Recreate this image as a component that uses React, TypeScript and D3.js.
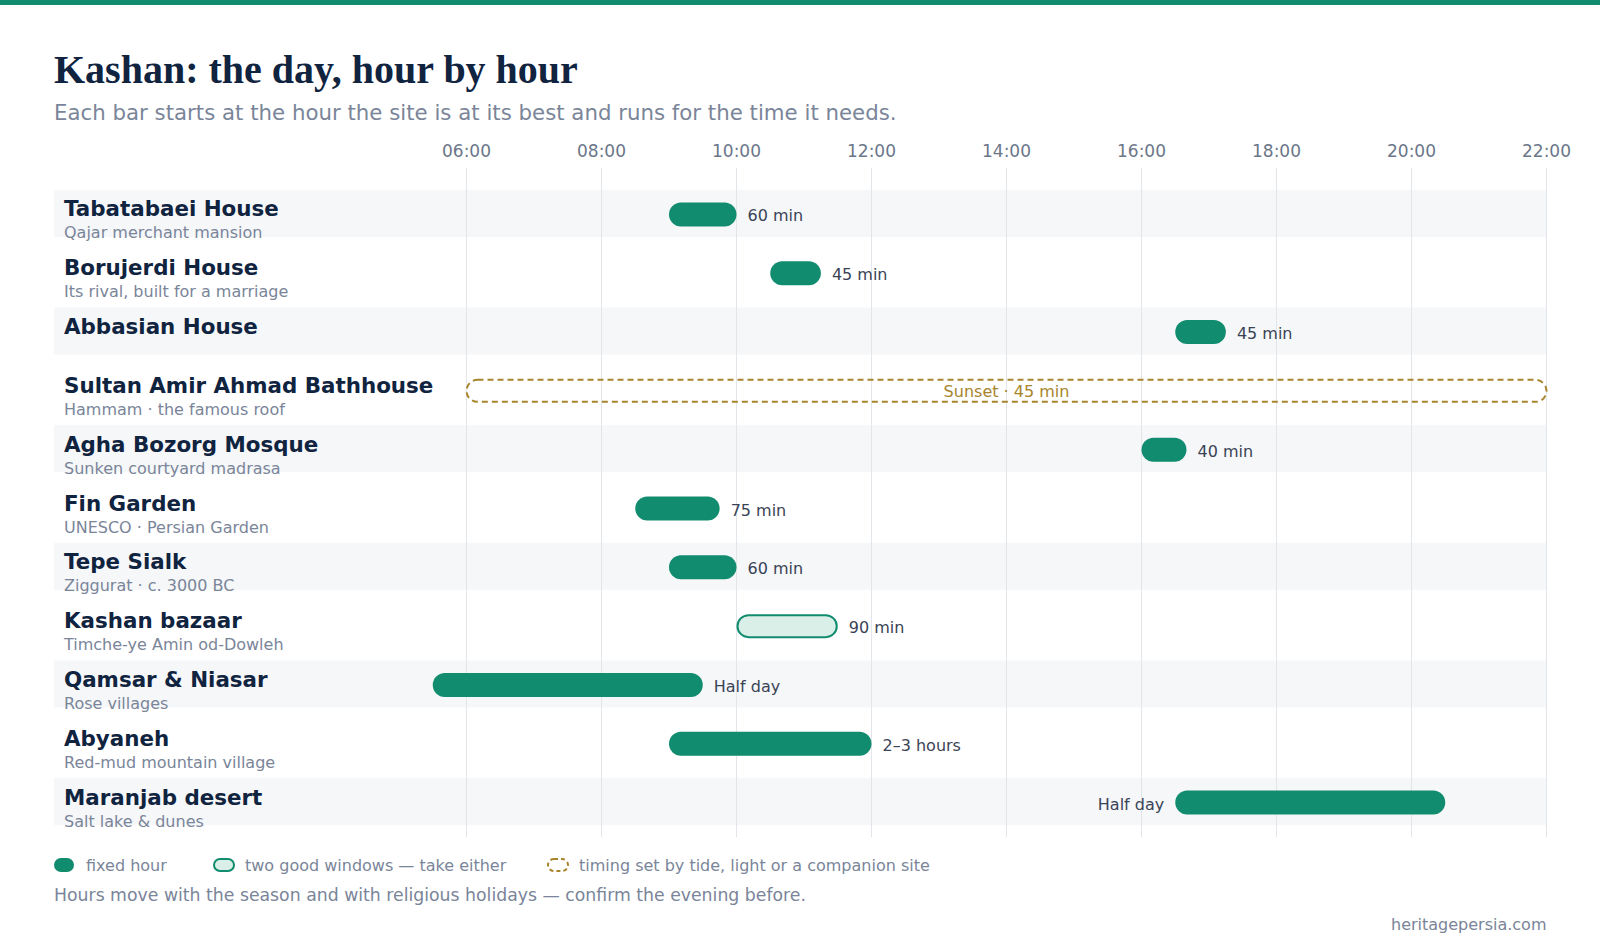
import * as d3 from 'd3';
import { useEffect } from 'react';

// site rows, top to bottom
const sites = [
  'Tabatabaei House',
  'Borujerdi House',
  'Abbasian House',
  'Sultan Amir Ahmad Bathhouse',
  'Agha Bozorg Mosque',
  'Fin Garden',
  'Tepe Sialk',
  'Kashan bazaar',
  'Qamsar & Niasar',
  'Abyaneh',
  'Maranjab desert',
];
const notes = [
  'Qajar merchant mansion',
  'Its rival, built for a marriage',
  '',
  'Hammam · the famous roof',
  'Sunken courtyard madrasa',
  'UNESCO · Persian Garden',
  'Ziggurat · c. 3000 BC',
  'Timche-ye Amin od-Dowleh',
  'Rose villages',
  'Red-mud mountain village',
  'Salt lake & dunes',
];
// best start hour (null = set by light / another site)
const startHours: (number | null)[] = [9, 10.5, 16.5, null, 16, 8.5, 9, 10, 5.5, 9, 16.5];
const durationsMin = [60, 45, 45, 45, 40, 75, 60, 90, 240, 180, 240];
const durationLabels = [
  '60 min', '45 min', '45 min', 'Sunset · 45 min', '40 min', '75 min',
  '60 min', '90 min', 'Half day', '2–3 hours', 'Half day',
];
const kinds = ['fixed', 'fixed', 'fixed', 'flex', 'fixed', 'fixed', 'fixed', 'either', 'fixed', 'fixed', 'fixed'];
const tickHours = [6, 8, 10, 12, 14, 16, 18, 20, 22];
const legendLabels = ['fixed hour', 'two good windows — take either', 'timing set by tide, light or a companion site'];

const W = 1600;
const H = 952;
const SANS = '"DejaVu Sans", Verdana, sans-serif';
const GREEN = '#128c6e';
const GOLD = '#a8842c';
const NAVY = '#10233f';
const GREY = '#7a8599';

export default function App() {
  useEffect(() => {
    document.body.style.margin = '0';
  }, []);

  const x = d3.scaleLinear().domain([6, 22]).range([466.5, 1546.5]);
  const y = d3.scaleBand<string>()
    .domain(sites)
    .range([184, 831])
    .paddingInner(0.2)
    .paddingOuter(0.1);
  const barH = 24;
  const [x0, x1] = x.range();

  const legendX = [54, 213, 547];

  return (
    <svg width={W} height={H} style={{ display: 'block', background: '#fff' }}>
      <rect x={0} y={0} width={W} height={5} fill={GREEN} />

      <text x={54} y={83} fontFamily='"Liberation Serif", "Times New Roman", serif'
        fontWeight={700} fontSize={40} fill={NAVY}>
        Kashan: the day, hour by hour
      </text>
      <text x={54} y={120} fontFamily={SANS} fontSize={21.3} fill={GREY}>
        Each bar starts at the hour the site is at its best and runs for the time it needs.
      </text>

      {/* row bands */}
      {sites.map((s, i) => i % 2 === 0 && (
        <rect key={'band' + s} x={54} y={y(s)} width={x1 - 54} height={y.bandwidth()} fill="#f5f7f9" />
      ))}

      {/* hour grid */}
      {tickHours.map(h => (
        <g key={h}>
          <line x1={x(h)} x2={x(h)} y1={168} y2={837} stroke="#e2e5e9" strokeWidth={1} />
          <text x={x(h)} y={157} textAnchor="middle" fontFamily={SANS} fontSize={17} fill="#6b7689">
            {d3.format('02d')(h)}:00
          </text>
        </g>
      ))}

      {sites.map((s, i) => {
        const cy = (y(s) ?? 0) + y.bandwidth() / 2 + 1;
        const start = startHours[i];
        const kind = kinds[i];
        let bar;
        let label;
        if (start === null) {
          bar = (
            <rect x={x0} y={cy - barH / 2 + 1} width={x1 - x0} height={barH - 2} rx={11}
              fill="none" stroke={GOLD} strokeWidth={2} strokeDasharray="6 4" />
          );
          label = (
            <text x={x(14)} y={cy + 6} textAnchor="middle" fontFamily={SANS} fontSize={16} fill={GOLD}>
              {durationLabels[i]}
            </text>
          );
        } else {
          const end = start + durationsMin[i] / 60;
          const bx = x(start);
          const bw = x(end) - bx;
          bar = kind === 'either' ? (
            <rect x={bx + 1} y={cy - barH / 2 + 1} width={bw - 2} height={barH - 2} rx={11}
              fill="#d9efe7" stroke={GREEN} strokeWidth={2} />
          ) : (
            <rect x={bx} y={cy - barH / 2} width={bw} height={barH} rx={12} fill={GREEN} />
          );
          const onLeft = end > 20;
          label = (
            <text x={onLeft ? bx - 11 : bx + bw + 11} y={cy + 7} textAnchor={onLeft ? 'end' : 'start'}
              fontFamily={SANS} fontSize={16} fill="#3a4356">
              {durationLabels[i]}
            </text>
          );
        }
        return (
          <g key={s}>
            <text x={64} y={cy + 2} fontFamily={SANS} fontWeight={700} fontSize={21.4} fill={NAVY}>{s}</text>
            {notes[i] && (
              <text x={64} y={cy + 24} fontFamily={SANS} fontSize={16} fill={GREY}>{notes[i]}</text>
            )}
            {bar}
            {label}
          </g>
        );
      })}

      {/* legend */}
      <g fontFamily={SANS} fontSize={16} fill={GREY}>
        <rect x={legendX[0]} y={858} width={20} height={14} rx={7} fill={GREEN} />
        <rect x={legendX[1] + 1} y={859} width={20} height={12} rx={6} fill="#d9efe7" stroke={GREEN} strokeWidth={2} />
        <rect x={legendX[2] + 1} y={859} width={20} height={12} rx={6} fill="none" stroke={GOLD} strokeWidth={2} strokeDasharray="4 3" />
        {legendLabels.map((l, i) => (
          <text key={l} x={legendX[i] + 32} y={871}>{l}</text>
        ))}
      </g>

      <text x={54} y={901} fontFamily={SANS} fontSize={17.3} fill={GREY}>
        Hours move with the season and with religious holidays — confirm the evening before.
      </text>
      <text x={x1} y={930} textAnchor="end" fontFamily={SANS} fontSize={16} fill={GREY}>
        heritagepersia.com
      </text>
    </svg>
  );
}
